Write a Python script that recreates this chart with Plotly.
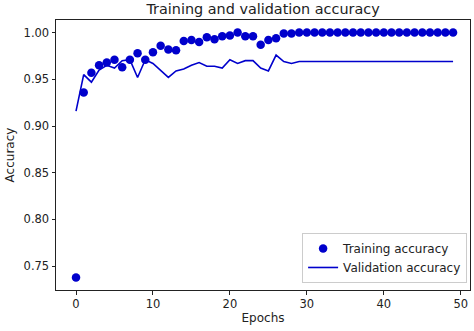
import plotly.graph_objects as go

epochs = list(range(50))

train_acc = [
    0.738, 0.936, 0.957, 0.965, 0.968, 0.971, 0.963, 0.971, 0.978, 0.971,
    0.979, 0.986, 0.982, 0.981, 0.991, 0.992, 0.990, 0.995, 0.993, 0.996,
    0.997, 1.000, 0.996, 0.996, 0.987, 0.992, 0.994, 0.999, 0.999, 1.000,
    1.000, 1.000, 1.000, 1.000, 1.000, 1.000, 1.000, 1.000, 1.000, 1.000,
    1.000, 1.000, 1.000, 1.000, 1.000, 1.000, 1.000, 1.000, 1.000, 1.000,
]

val_acc = [
    0.916, 0.955, 0.947, 0.960, 0.965, 0.962, 0.970, 0.971, 0.952, 0.971,
    0.967, 0.960, 0.952, 0.959, 0.961, 0.965, 0.968, 0.964, 0.964, 0.962,
    0.971, 0.967, 0.970, 0.970, 0.962, 0.959, 0.976, 0.969, 0.967, 0.969,
    0.969, 0.969, 0.969, 0.969, 0.969, 0.969, 0.969, 0.969, 0.969, 0.969,
    0.969, 0.969, 0.969, 0.969, 0.969, 0.969, 0.969, 0.969, 0.969, 0.969,
]

x_ticks = [0, 10, 20, 30, 40, 50]
y_ticks = [0.75, 0.80, 0.85, 0.90, 0.95, 1.00]

BLUE = "#0000cc"
FONT = "DejaVu Sans"
INK = "#222"

fig = go.Figure()
fig.add_trace(go.Scatter(
    x=epochs, y=train_acc, mode="markers", name="Training accuracy",
    marker=dict(color=BLUE, size=8.5),
))
fig.add_trace(go.Scatter(
    x=epochs, y=val_acc, mode="lines", name="Validation accuracy",
    line=dict(color=BLUE, width=1.6),
))

axis_common = dict(
    showgrid=False, zeroline=False, showline=True, linecolor=INK,
    linewidth=1, mirror=True, ticks="outside", ticklen=3.5,
    tickcolor=INK, tickfont=dict(family=FONT, size=11.5, color=INK),
)

fig.update_layout(
    width=474, height=331,
    margin=dict(l=56, r=4, t=20, b=41),
    paper_bgcolor="white", plot_bgcolor="white",
    font=dict(family=FONT, color=INK),
    title=dict(text="Training and validation accuracy", x=0.555, xanchor="center",
               y=0.972, yanchor="middle", font=dict(family=FONT, size=14.4, color=INK)),
    xaxis=dict(range=[-2.6, 51.2], tickvals=x_ticks,
               title=dict(text="Epochs", font=dict(family=FONT, size=12), standoff=3),
               **axis_common),
    yaxis=dict(range=[0.7245, 1.0135], tickvals=y_ticks, tickformat=".2f",
               title=dict(text="Accuracy", font=dict(family=FONT, size=12), standoff=6),
               **axis_common),
    legend=dict(x=0.993, y=0.026, xanchor="right", yanchor="bottom",
                bgcolor="rgba(255,255,255,0.85)", bordercolor="#cccccc", borderwidth=1,
                font=dict(family=FONT, size=12, color=INK),
                tracegroupgap=0, itemwidth=30),
    showlegend=True,
)

fig.write_html("out.html")
